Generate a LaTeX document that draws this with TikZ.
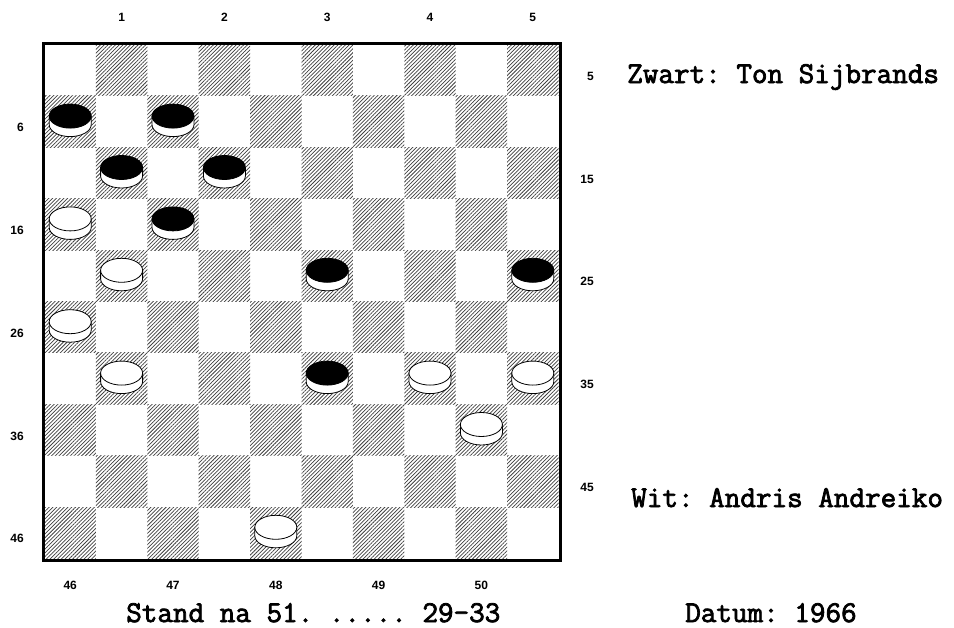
\documentclass[tikz,border=0pt]{standalone}
\usepackage{fontspec}
\usetikzlibrary{patterns.meta}
\newfontfamily\labfont{Liberation Sans}
\newfontfamily\capfont{Latin Modern Mono}[AutoFakeBold=2.5]
\frenchspacing
\def\sq{51.4}
\def\org{44.5}

\begin{document}
\begin{tikzpicture}[x=0.75pt,y=-0.75pt,
    every node/.style={inner sep=0pt},
    dark/.style={pattern={Lines[angle=45,distance=2pt,line width=0.55pt]},pattern color=black!75},
    num/.style={font=\labfont\bfseries\fontsize{9}{9}\selectfont},
    caption/.style={font=\capfont\bfseries\fontsize{22.7}{22.7}\selectfont,anchor=base west},
    pics/man/.style={code={
      \filldraw[fill=white,draw=black,line width=0.6pt] (-21,-5.5) -- (-21,3)
        arc[start angle=180,end angle=0,x radius=21,y radius=12] -- (21,-5.5) -- cycle;
      \filldraw[fill=#1,draw=black,line width=0.6pt] (0,-5.5) ellipse[x radius=21,y radius=12];
    }}]
  \useasboundingbox[fill=white] (0,0) rectangle (954,628);
  \foreach \r in {0,...,9}
    \foreach \c in {0,...,9}{
      \pgfmathtruncatemacro\odd{mod(\r+\c,2)}
      \ifnum\odd=1
        \fill[dark] ({\org+\c*\sq},{\org+\r*\sq}) rectangle +(\sq,\sq);
      \fi
    }
  \draw[line width=2.25pt] (43,43) rectangle (560,560);
  \foreach \c/\r/\col in {0/1/black,2/1/black,1/2/black,3/2/black,0/3/white,2/3/black,
      1/4/white,5/4/black,9/4/black,0/5/white,1/6/white,5/6/black,7/6/white,9/6/white,
      8/7/white,4/9/white}
    \pic at ({\org+(\c+0.5)*\sq},{\org+(\r+0.5)*\sq}) {man=\col};
  \foreach \i in {1,...,5}{
    \node[num] (top\i) at ({\org+(2*\i-0.5)*\sq},17) {\i};
    \pgfmathtruncatemacro\lft{10*\i-4}
    \pgfmathtruncatemacro\rgt{10*\i-5}
    \pgfmathtruncatemacro\bot{45+\i}
    \node[num,anchor=east] (left\i) at (24,{\org+(2*\i-0.5)*\sq+6}) {\lft};
    \node[num,anchor=east] (right\i) at (594,{\org+(2*\i-1.5)*\sq+6}) {\rgt};
    \node[num] (bottom\i) at ({\org+(2*\i-1.5)*\sq},585) {\bot};
  }
  \node[caption] (black) at (627,83) {Zwart: Ton Sijbrands};
  \node[caption] (white) at (631,507) {Wit: Andris Andreiko};
  \node[caption] (stand) at (126,622) {Stand na 51. ..... 29-33};
  \node[caption] (date) at (685,622) {Datum: 1966};
\end{tikzpicture}
\end{document}
